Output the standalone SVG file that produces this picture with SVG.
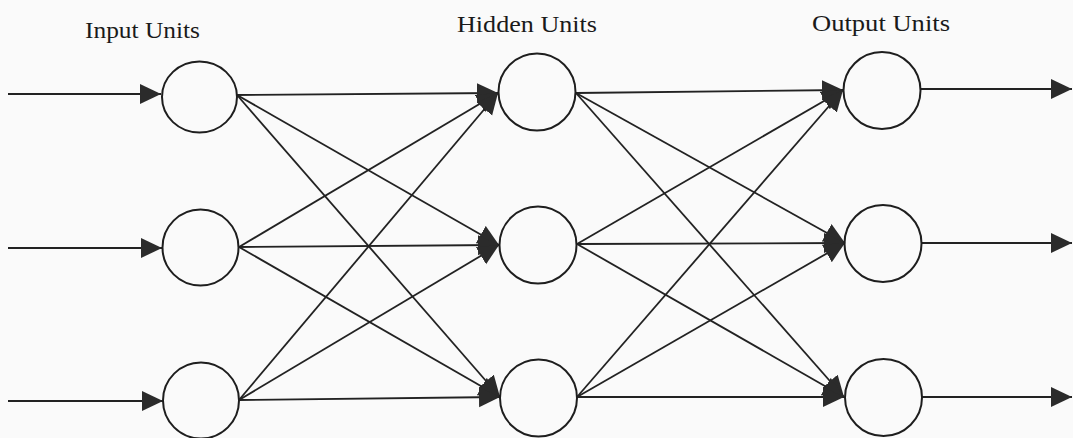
<svg xmlns="http://www.w3.org/2000/svg" width="1073" height="438" viewBox="0 0 1073 438">
<style>
.n{fill:none;stroke:#1e1e1e;stroke-width:2}
.c line{stroke:#222;stroke-width:1.8}
.t{font-family:"Liberation Serif","Times New Roman",serif;font-size:24px;fill:#1a1a1a}
</style>
<defs>
<marker id="ah" markerUnits="userSpaceOnUse" markerWidth="24" markerHeight="22" refX="21" refY="10" orient="auto">
<path d="M0,0 L21,10 L0,20 z" fill="#2b2b2b"/>
</marker>
</defs>
<rect width="1073" height="438" fill="#fafafa"/>
<text class="t" x="85" y="38" textLength="115" lengthAdjust="spacingAndGlyphs">Input Units</text>
<text class="t" x="457" y="32" textLength="140" lengthAdjust="spacingAndGlyphs">Hidden Units</text>
<text class="t" x="812" y="31" textLength="138" lengthAdjust="spacingAndGlyphs">Output Units</text>
<g id="connectors" class="c">
<line x1="8" y1="94" x2="161" y2="94" marker-end="url(#ah)"/>
<line x1="8" y1="248" x2="162" y2="248" marker-end="url(#ah)"/>
<line x1="8" y1="401" x2="163" y2="401" marker-end="url(#ah)"/>
<line x1="237" y1="95" x2="498" y2="93" marker-end="url(#ah)"/>
<line x1="237" y1="95" x2="499" y2="245" marker-end="url(#ah)"/>
<line x1="237" y1="95" x2="500" y2="397" marker-end="url(#ah)"/>
<line x1="239" y1="247" x2="498" y2="93" marker-end="url(#ah)"/>
<line x1="239" y1="247" x2="499" y2="245" marker-end="url(#ah)"/>
<line x1="239" y1="247" x2="500" y2="397" marker-end="url(#ah)"/>
<line x1="239" y1="400" x2="498" y2="93" marker-end="url(#ah)"/>
<line x1="239" y1="400" x2="499" y2="245" marker-end="url(#ah)"/>
<line x1="239" y1="400" x2="500" y2="397" marker-end="url(#ah)"/>
<line x1="576" y1="93" x2="843" y2="90" marker-end="url(#ah)"/>
<line x1="576" y1="93" x2="845" y2="243" marker-end="url(#ah)"/>
<line x1="576" y1="93" x2="844" y2="397" marker-end="url(#ah)"/>
<line x1="577" y1="244" x2="843" y2="90" marker-end="url(#ah)"/>
<line x1="577" y1="244" x2="845" y2="243" marker-end="url(#ah)"/>
<line x1="577" y1="244" x2="844" y2="397" marker-end="url(#ah)"/>
<line x1="577" y1="397" x2="843" y2="90" marker-end="url(#ah)"/>
<line x1="577" y1="397" x2="845" y2="243" marker-end="url(#ah)"/>
<line x1="577" y1="397" x2="844" y2="397" marker-end="url(#ah)"/>
<line x1="921" y1="89" x2="1072" y2="89" marker-end="url(#ah)"/>
<line x1="921" y1="243" x2="1072" y2="243" marker-end="url(#ah)"/>
<line x1="922" y1="397" x2="1072" y2="397" marker-end="url(#ah)"/>
</g>
<g id="in1"><ellipse class="n" cx="199.5" cy="97" rx="37.5" ry="35.5"/></g>
<g id="in2"><circle class="n" cx="200.5" cy="247.5" r="38"/></g>
<g id="in3"><circle class="n" cx="201" cy="400.5" r="38"/></g>
<g id="hid1"><circle class="n" cx="537" cy="92" r="38.5"/></g>
<g id="hid2"><circle class="n" cx="538" cy="245" r="38.5"/></g>
<g id="hid3"><circle class="n" cx="538.5" cy="398" r="38.5"/></g>
<g id="out1"><circle class="n" cx="882" cy="90.5" r="38.5"/></g>
<g id="out2"><circle class="n" cx="883" cy="243.5" r="38.5"/></g>
<g id="out3"><circle class="n" cx="883.5" cy="397.5" r="38.5"/></g>
</svg>
